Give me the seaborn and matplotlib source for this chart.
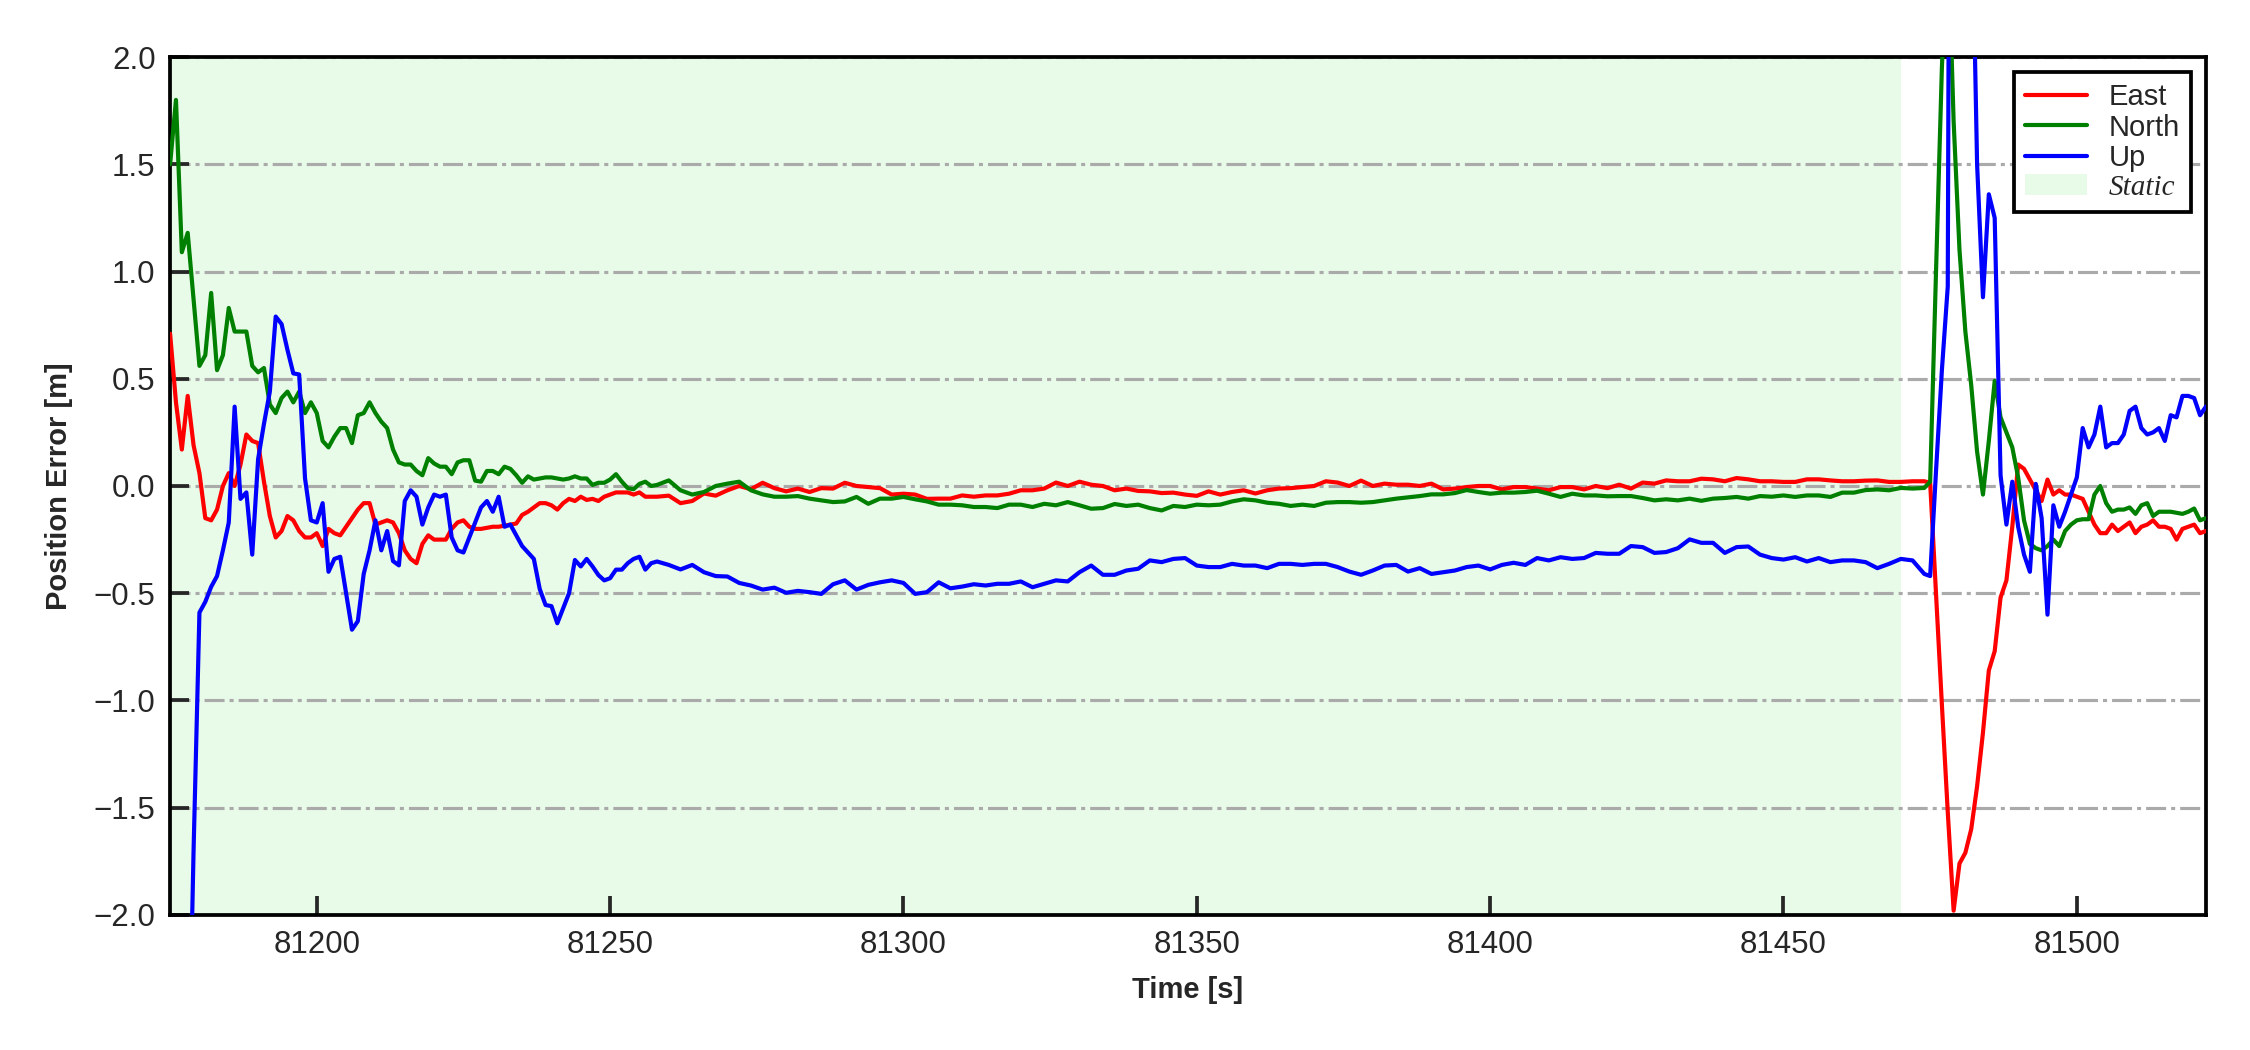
import numpy as np
import pandas as pd
import seaborn as sns
from matplotlib import pyplot as plt
from matplotlib.lines import Line2D
from matplotlib.patches import Patch

# time base: 1 s at the start and end, 2 s in the quiet middle part
time_s = np.concatenate([np.arange(81175, 81258),
                         np.arange(81258, 81475, 2),
                         np.arange(81475, 81523)])

east_start = [0.71, 0.39, 0.17, 0.42, 0.19, 0.06, -0.15, -0.16, -0.11, 0.00,
              0.06, 0.00, 0.10, 0.24, 0.21, 0.20, 0.02, -0.14, -0.24, -0.21,
              -0.14, -0.16, -0.21, -0.24, -0.24, -0.22, -0.28, -0.20, -0.22, -0.23,
              -0.19, -0.15, -0.11, -0.08, -0.08, -0.18, -0.17, -0.16, -0.17, -0.22,
              -0.30, -0.34, -0.36, -0.27, -0.23, -0.25, -0.25, -0.25, -0.20, -0.17,
              -0.16, -0.19, -0.20, -0.20, -0.195, -0.19, -0.19, -0.185, -0.18, -0.175,
              -0.135, -0.12, -0.10, -0.08, -0.08, -0.09, -0.11, -0.08, -0.06, -0.07,
              -0.05, -0.065, -0.06, -0.07, -0.05, -0.04, -0.03, -0.03, -0.03, -0.04,
              -0.03, -0.05, -0.05]
east_mid = [-0.05, -0.045, -0.08, -0.07, -0.035, -0.045, -0.02, 0.0, -0.015, 0.015,
            -0.01, -0.025, -0.012, -0.028, -0.01, -0.012, 0.015, 0.0, -0.005, -0.01,
            -0.04, -0.036, -0.04, -0.06, -0.059, -0.059, -0.044, -0.05, -0.044, -0.044,
            -0.036, -0.02, -0.02, -0.012, 0.016, 0.0, 0.02, 0.006, 0.0, -0.02,
            -0.012, -0.023, -0.025, -0.033, -0.031, -0.04, -0.046, -0.025, -0.04, -0.028,
            -0.02, -0.035, -0.02, -0.012, -0.01,
            -0.005, 0.0, 0.022, 0.016, 0.0, 0.025, 0.0, 0.011, 0.006, 0.006,
            0.0, 0.011, -0.016, -0.012, -0.005, 0.0, 0.0, -0.016, -0.005, -0.005,
            -0.012, -0.02, -0.005, -0.005, -0.016, 0.0, -0.01, 0.006, -0.012, 0.016,
            0.011, 0.026, 0.022, 0.022, 0.034, 0.031, 0.022, 0.037, 0.031, 0.022,
            0.022, 0.019, 0.019, 0.031, 0.031, 0.026, 0.022, 0.022, 0.025, 0.026,
            0.019, 0.019, 0.022, 0.022]
east_end = [0.015, -0.50, -1.02, -1.52, -1.98, -1.76, -1.71, -1.60, -1.40, -1.15,
            -0.86, -0.77, -0.52, -0.44, -0.19, 0.10, 0.08, 0.03, -0.02, -0.07,
            0.03, -0.04, -0.02, -0.04, -0.04, -0.05, -0.06, -0.12, -0.18, -0.22,
            -0.22, -0.18, -0.21, -0.19, -0.17, -0.22, -0.19, -0.18, -0.16, -0.19,
            -0.19, -0.20, -0.25, -0.20, -0.19, -0.18, -0.22, -0.21]

north_start = [1.50, 1.80, 1.09, 1.18, 0.87, 0.56, 0.61, 0.90, 0.54, 0.61,
               0.83, 0.72, 0.72, 0.72, 0.56, 0.53, 0.55, 0.38, 0.34, 0.41,
               0.44, 0.39, 0.44, 0.34, 0.39, 0.34, 0.21, 0.18, 0.23, 0.27,
               0.27, 0.20, 0.33, 0.34, 0.39, 0.34, 0.30, 0.27, 0.17, 0.11,
               0.10, 0.10, 0.07, 0.05, 0.13, 0.105, 0.09, 0.09, 0.055, 0.11,
               0.12, 0.12, 0.025, 0.02, 0.07, 0.07, 0.055, 0.09, 0.08, 0.05,
               0.015, 0.045, 0.03, 0.035, 0.04, 0.04, 0.035, 0.03, 0.035, 0.045,
               0.035, 0.035, 0.005, 0.015, 0.015, 0.03, 0.055, 0.02, -0.01, -0.015,
               0.01, 0.02, 0.0]
north_mid = [0.005, 0.026, -0.02, -0.04, -0.028, 0.0, 0.011, 0.02, -0.02, -0.039,
             -0.05, -0.05, -0.047, -0.059, -0.067, -0.075, -0.072, -0.051, -0.083, -0.059,
             -0.059, -0.051, -0.062, -0.072, -0.087, -0.087, -0.09, -0.098, -0.098, -0.103,
             -0.087, -0.087, -0.098, -0.083, -0.09, -0.075, -0.09, -0.106, -0.103, -0.084,
             -0.093, -0.087, -0.103, -0.114, -0.093, -0.098, -0.087, -0.09, -0.087, -0.072,
             -0.062, -0.067, -0.078, -0.083, -0.093,
             -0.087, -0.093, -0.078, -0.075, -0.075, -0.078, -0.075, -0.067, -0.059, -0.053,
             -0.047, -0.039, -0.039, -0.033, -0.019, -0.028, -0.036, -0.031, -0.031, -0.028,
             -0.022, -0.036, -0.051, -0.036, -0.044, -0.044, -0.048, -0.047, -0.047, -0.056,
             -0.067, -0.062, -0.067, -0.059, -0.069, -0.059, -0.056, -0.051, -0.059, -0.047,
             -0.05, -0.044, -0.051, -0.044, -0.044, -0.051, -0.031, -0.031, -0.019, -0.016,
             -0.02, -0.009, -0.012, -0.009]
north_end = [0.02, 1.0, 1.95, 2.6, 1.7, 1.1, 0.72, 0.47, 0.16, -0.04,
             0.21, 0.49, 0.32, 0.25, 0.18, 0.04, -0.16, -0.27, -0.29, -0.30,
             -0.28, -0.25, -0.28, -0.21, -0.18, -0.16, -0.155, -0.155, -0.04, 0.0,
             -0.08, -0.12, -0.11, -0.11, -0.10, -0.13, -0.09, -0.08, -0.14, -0.12,
             -0.12, -0.12, -0.125, -0.13, -0.12, -0.105, -0.16, -0.15]

up_start = [-3.5, -3.5, -3.3, -3.0, -1.7, -0.59, -0.54, -0.47, -0.42, -0.30,
            -0.17, 0.37, -0.06, -0.03, -0.32, 0.125, 0.29, 0.44, 0.79, 0.755,
            0.635, 0.525, 0.52, 0.035, -0.16, -0.17, -0.08, -0.40, -0.34, -0.33,
            -0.50, -0.67, -0.63, -0.41, -0.30, -0.16, -0.30, -0.21, -0.35, -0.37,
            -0.07, -0.02, -0.05, -0.18, -0.10, -0.04, -0.05, -0.04, -0.24, -0.30,
            -0.31, -0.24, -0.17, -0.10, -0.07, -0.12, -0.05, -0.19, -0.18, -0.23,
            -0.28, -0.31, -0.34, -0.48, -0.555, -0.56, -0.64, -0.57, -0.50, -0.345,
            -0.375, -0.34, -0.375, -0.415, -0.44, -0.43, -0.39, -0.39, -0.36, -0.34,
            -0.33, -0.39, -0.36]
up_mid = [-0.352, -0.368, -0.389, -0.368, -0.402, -0.42, -0.422, -0.452, -0.464, -0.483,
          -0.474, -0.498, -0.489, -0.495, -0.503, -0.458, -0.44, -0.483, -0.461, -0.449,
          -0.44, -0.452, -0.503, -0.495, -0.449, -0.477, -0.469, -0.458, -0.464, -0.456,
          -0.456, -0.445, -0.472, -0.456, -0.44, -0.445, -0.402, -0.371, -0.414, -0.414,
          -0.394, -0.386, -0.347, -0.355, -0.34, -0.336, -0.371, -0.378, -0.378, -0.363,
          -0.371, -0.371, -0.383, -0.363, -0.363,
          -0.368, -0.363, -0.363, -0.378, -0.399, -0.414, -0.394, -0.371, -0.368, -0.399,
          -0.383, -0.41, -0.402, -0.394, -0.378, -0.371, -0.389, -0.368, -0.358, -0.368,
          -0.336, -0.347, -0.332, -0.34, -0.336, -0.312, -0.316, -0.316, -0.28, -0.285,
          -0.312, -0.308, -0.29, -0.249, -0.265, -0.265, -0.312, -0.285, -0.282, -0.32,
          -0.336, -0.343, -0.332, -0.352, -0.336, -0.355, -0.347, -0.347, -0.355, -0.383,
          -0.363, -0.34, -0.347, -0.41]
up_end = [-0.42, 0.07, 0.54, 0.93, 9.0, 7.0, 5.0, 2.9, 1.5, 0.88,
          1.36, 1.25, 0.05, -0.18, 0.02, -0.19, -0.32, -0.40, 0.01, -0.15,
          -0.60, -0.09, -0.19, -0.12, -0.04, 0.04, 0.27, 0.18, 0.24, 0.37,
          0.18, 0.20, 0.20, 0.24, 0.35, 0.37, 0.27, 0.24, 0.25, 0.27,
          0.21, 0.33, 0.32, 0.42, 0.42, 0.41, 0.33, 0.37]

static_start, static_end = 81170, 81470
y_ticks = [-2.0, -1.5, -1.0, -0.5, 0.0, 0.5, 1.0, 1.5, 2.0]
x_ticks = [81200, 81250, 81300, 81350, 81400, 81450, 81500]

df = pd.DataFrame({
    'time': time_s,
    'East': east_start + east_mid + east_end,
    'North': north_start + north_mid + north_end,
    'Up': up_start + up_mid + up_end,
})

sns.set_style('white')
plt.rcParams['font.family'] = ['Liberation Sans', 'DejaVu Sans']
plt.rcParams['axes.unicode_minus'] = True

fig = plt.figure(figsize=(7.5, 3.5), dpi=300)
ax = fig.add_axes([0.0756, 0.1286, 0.9048, 0.8171])

ax.axvspan(static_start, static_end, color='lightgreen', alpha=0.2, lw=0, zorder=0)
ax.grid(axis='y', color='#aaaaaa', lw=0.75, linestyle=(0, (6.4, 1.6, 1.3, 1.6)), zorder=1)
ax.grid(axis='x', visible=False)

colors = {'East': 'red', 'North': 'green', 'Up': 'blue'}
for name, c in colors.items():
    sns.lineplot(data=df, x='time', y=name, color=c, lw=1.0, ax=ax,
                 legend=False, zorder=3)

ax.set_xlim(81175, 81522)
ax.set_ylim(-2, 2)
ax.set_xticks(x_ticks)
ax.set_yticks(y_ticks)
ax.set_yticklabels([f'{v:.1f}'.replace('-', '\u2212') for v in y_ticks])
ax.tick_params(direction='in', length=4.5, width=0.9, labelsize=7.5,
               bottom=True, left=True, top=False, right=False)
for s in ax.spines.values():
    s.set_color('black')
    s.set_linewidth(0.9)

ax.set_xlabel('Time [s]', fontsize=7, fontweight='bold', labelpad=4)
ax.set_ylabel('Position Error [m]', fontsize=7, fontweight='bold', labelpad=5)

handles = [Line2D([], [], color=c, lw=1.0) for c in colors.values()]
handles.append(Patch(facecolor='lightgreen', alpha=0.2, lw=0))
leg = ax.legend(handles, list(colors) + ['Static'], loc='upper right', fontsize=7,
                fancybox=False, framealpha=1, edgecolor='black', labelspacing=0.08,
                handlelength=2.1, handletextpad=0.75, borderpad=0.4)
leg.get_frame().set_linewidth(0.9)
static_txt = leg.get_texts()[3]
static_txt.set_fontfamily('Liberation Serif')
static_txt.set_fontstyle('italic')

fig.savefig('out.png', dpi=300)
